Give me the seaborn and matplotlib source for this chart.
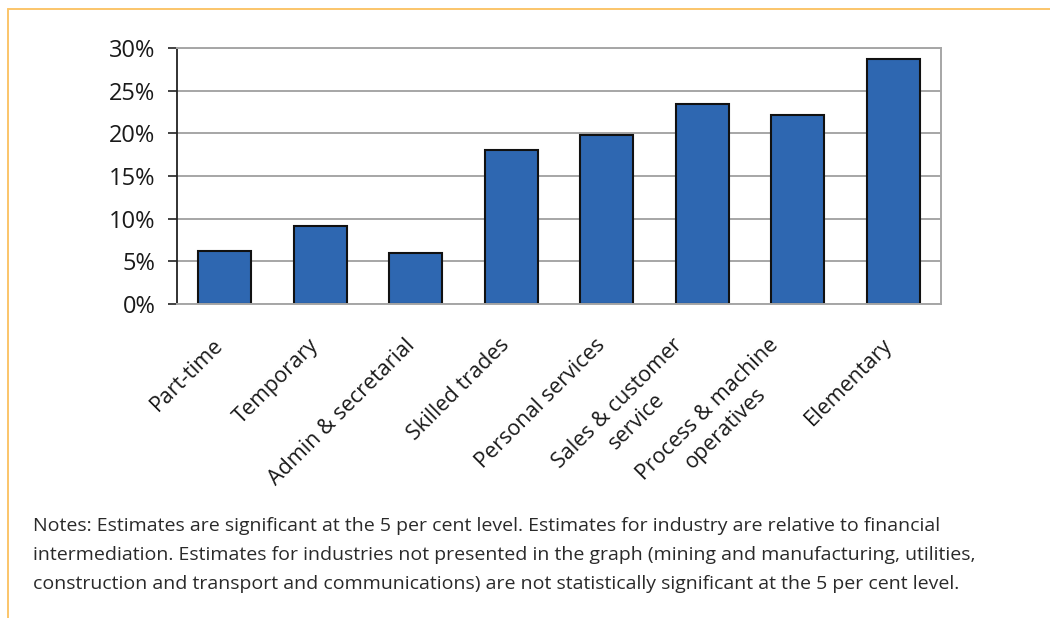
import matplotlib
matplotlib.use("Agg")
import matplotlib.pyplot as plt
from matplotlib.lines import Line2D
from matplotlib.ticker import PercentFormatter, MultipleLocator
from matplotlib.transforms import ScaledTranslation
import seaborn as sns
import pandas as pd

categories = [
    "Part-time",
    "Temporary",
    "Admin & secretarial",
    "Skilled trades",
    "Personal services",
    "Sales & customer\nservice",
    "Process & machine\noperatives",
    "Elementary",
]
values = [6.2, 9.1, 5.95, 18.05, 19.85, 23.4, 22.1, 28.7]

notes = ("Notes: Estimates are significant at the 5 per cent level. Estimates for industry are relative to financial\n"
         "intermediation. Estimates for industries not presented in the graph (mining and manufacturing, utilities,\n"
         "construction and transport and communications) are not statistically significant at the 5 per cent level.")

sns.set_theme(style="white")
plt.rcParams["font.family"] = ["Open Sans", "DejaVu Sans"]

df = pd.DataFrame({"category": categories, "value": values})

W, H = 1050, 618
fig = plt.figure(figsize=(W / 100, H / 100), dpi=100)
ax = fig.add_axes([177 / W, 1 - 304 / H, (941 - 177) / W, (304 - 48) / H])

sns.barplot(data=df, x="category", y="value", ax=ax, color="#2E67B1",
            edgecolor="#111111", linewidth=1.5, width=0.555, saturation=1)

ax.set_ylim(0, 30)
ax.set_xlim(-0.5, len(categories) - 0.5)
ax.yaxis.set_major_locator(MultipleLocator(5))
ax.yaxis.set_major_formatter(PercentFormatter(xmax=100, decimals=0))
ax.set_xlabel("")
ax.set_ylabel("")

ax.grid(axis="y", color="#a6a6a6", linewidth=1.4)
ax.set_axisbelow(True)
for side in ("top", "right", "bottom"):
    ax.spines[side].set_color("#a6a6a6")
    ax.spines[side].set_linewidth(1.4)
ax.spines["left"].set_color("#222222")
ax.spines["left"].set_linewidth(1.3)

ax.tick_params(axis="y", left=True, length=6.5, width=1.2, color="#222222",
               pad=9, labelsize=17, labelcolor="#1a1a1a")
ax.tick_params(axis="x", bottom=False, length=0, pad=22, labelsize=15.5,
               labelcolor="#1a1a1a")
shift = ScaledTranslation(3 / 100, 0, fig.dpi_scale_trans)
for lbl in ax.get_xticklabels():
    lbl.set_rotation(45)
    lbl.set_ha("right")
    lbl.set_va("top")
    lbl.set_multialignment("center")
    lbl.set_linespacing(1.3)
    lbl.set_transform(lbl.get_transform() + shift)

fig.text(33 / W, 1 - 555 / H, notes, ha="left", va="center", fontsize=14,
         color="#2a2a2a", linespacing=1.76)

# Page frame lines along the top and left edges
frame = "#FBC56A"
fig.add_artist(Line2D([8 / W, 1.0], [1 - 9 / H, 1 - 9 / H], color=frame,
                      linewidth=1.4, transform=fig.transFigure))
fig.add_artist(Line2D([8 / W, 8 / W], [1 - 9 / H, 0.0], color=frame,
                      linewidth=1.4, transform=fig.transFigure))

fig.savefig("out.png", dpi=100, facecolor="white")
